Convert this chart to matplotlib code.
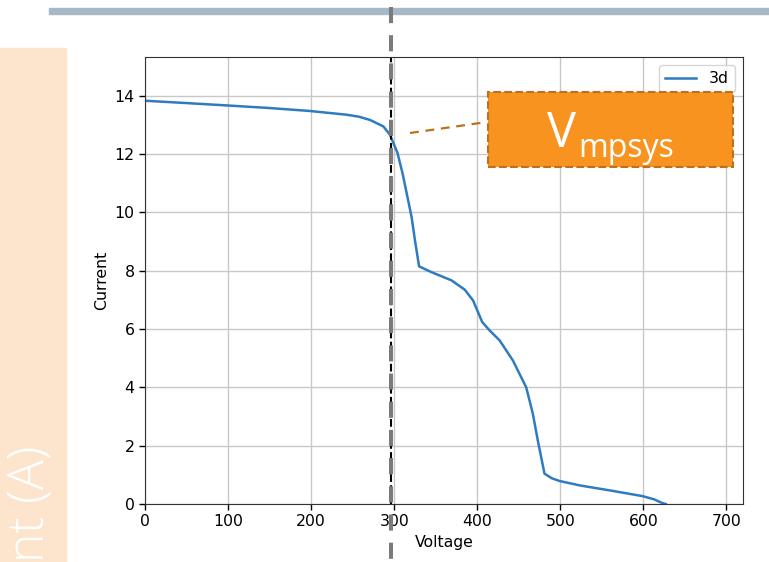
import matplotlib.pyplot as plt
from matplotlib.patches import Rectangle
from matplotlib.lines import Line2D

# I-V curve
voltage = [0, 50, 98, 150, 198, 243, 258, 271, 287, 295, 304, 310, 316, 321, 325, 330,
           345, 369, 385, 395, 406, 415, 427, 443, 459, 467, 473, 481, 490, 499,
           523, 563, 599, 613, 623, 627]
current = [13.83, 13.75, 13.67, 13.58, 13.48, 13.35, 13.28, 13.17, 12.95, 12.66, 12.04,
           11.35, 10.53, 9.84, 9.05, 8.15, 7.95, 7.67, 7.35, 6.98, 6.24, 5.95, 5.61,
           4.92, 4.0, 3.09, 2.17, 1.04, 0.88, 0.79, 0.64, 0.45, 0.27, 0.16, 0.03, 0.0]
v_mp = 296
xticks = [0, 100, 200, 300, 400, 500, 600, 700]
yticks = [0, 2, 4, 6, 8, 10, 12, 14]

W, H = 769, 562
fig = plt.figure(figsize=(W / 100, H / 100), dpi=100)

def fx(px):
    return px / W

def fy(py):
    return 1 - py / H

# slide decorations behind the chart
fig.patches.append(Rectangle((fx(49), fy(13.5)), fx(769 - 49), 5 / H,
                             transform=fig.transFigure, color='#a7b9c7', zorder=0))
fig.patches.append(Rectangle((0, 0), fx(66), fy(48),
                             transform=fig.transFigure, color='#fde5cd', zorder=0))
# slide's axis title, cut off by the picture edge as in the original
fig.text(fx(32), fy(446), 'Current (A)', rotation=90, ha='center', va='top',
         color='white', fontsize=36, family='Open Sans', weight='light', zorder=1)

ax = fig.add_axes([fx(145), 1 - 504 / H, fx(743 - 145), (504 - 57) / H])
fs = 11.3
ax.plot(voltage, current, color='#2f7bc0', lw=1.8, label='3d')
ax.axvline(v_mp, color='k', ls='--', lw=1.5)
ax.set_xlim(0, 720)
ax.set_ylim(0, 15.33)
ax.set_xticks(xticks)
ax.set_yticks(yticks)
ax.tick_params(labelsize=fs, length=4, width=1)
ax.grid(True, color='#c8c8c8', lw=1)
ax.set_axisbelow(True)
ax.set_xlabel('Voltage', fontsize=fs)
ax.set_ylabel('Current', fontsize=fs)
for s in ax.spines.values():
    s.set_color('#333333')
ax.legend(loc='upper right', fontsize=fs)

# slide overlay: marker line, callout box and label
fig.lines.append(Line2D([fx(390.5), fx(390.5)], [fy(7), 0], transform=fig.transFigure,
                        color='#7b7b7b', lw=2.9, dashes=(4, 3), zorder=5))
fig.lines.append(Line2D([fx(410), fx(487)], [fy(133), fy(122)], transform=fig.transFigure,
                        color='#c0701c', lw=1.6, dashes=(4, 3), zorder=5))
fig.patches.append(Rectangle((fx(488), fy(167)), fx(733 - 488), (167 - 92) / H,
                             transform=fig.transFigure, facecolor='#f7931e',
                             edgecolor='#c0701c', lw=1.5, ls='--', zorder=5))
fig.text(fx(547), fy(147), 'V', ha='left', va='baseline', color='white',
         fontsize=35, family='Open Sans', zorder=6)
fig.text(fx(578), fy(157), 'mpsys', ha='left', va='baseline', color='white',
         fontsize=23, family='Open Sans', zorder=6)

fig.savefig('out.png', dpi=100)
